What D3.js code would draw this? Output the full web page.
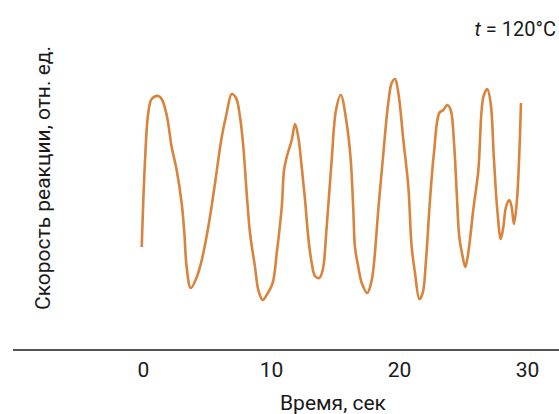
<!DOCTYPE html>
<html>
<head>
<meta charset="utf-8">
<script src="https://cdn.jsdelivr.net/npm/d3@7"></script>
<style>
  body { margin: 0; background: #fff; }
  text { font-family: Roboto, "Liberation Sans", sans-serif; fill: #1a1a1a; }
</style>
</head>
<body>
<div id="canvas"></div>
<script>
var W = 559, H = 414;

// time, sec
var times = [-0.1, 0.16, 0.41, 0.68, 1.2, 1.46, 1.85, 2.24, 2.63, 3.02, 3.23, 3.41, 3.73, 4.2, 4.59, 5.1, 5.63, 6.15, 6.54, 6.93,
  7.27, 7.58, 7.84, 8.1, 8.36, 8.75, 9.01, 9.35, 9.66, 10.13, 10.45, 10.84, 11.02, 11.23, 11.62, 11.88, 12.13, 12.4, 12.66, 12.91,
  13.18, 13.44, 13.77, 14.04, 14.35, 14.74, 15.08, 15.45, 15.91, 16.23, 16.43, 16.56, 16.82, 17.09, 17.52, 17.87, 18.07, 18.38, 18.73, 19.16,
  19.43, 19.69, 19.95, 20.34, 20.73, 20.99, 21.25, 21.59, 21.85, 22.11, 22.42, 22.73, 23.15, 23.46, 23.77, 24.04, 24.3, 24.51, 24.71, 24.98,
  25.18, 25.41, 25.8, 26.2, 26.59, 26.9, 27.16, 27.42, 27.68, 27.95, 28.15, 28.36, 28.62, 28.8, 28.98, 29.2, 29.38, 29.53];
// reaction rate, rel. units
var rates = [7.3, 16.0, 20.7, 22.1, 22.4, 22.1, 20.5, 17.3, 15.0, 11.7, 8.7, 5.3, 3.2, 4.3, 6.0, 9.3, 13.7, 18.3, 20.7, 22.6,
  22.2, 20.3, 17.3, 12.7, 8.7, 5.3, 3.0, 2.0, 2.5, 3.7, 6.7, 11.3, 15.0, 16.3, 18.0, 19.6, 18.3, 15.3, 12.0, 8.3,
  5.7, 4.4, 4.2, 5.0, 9.3, 16.0, 21.0, 22.5, 19.7, 16.0, 11.0, 7.3, 5.3, 3.7, 2.7, 4.0, 6.0, 11.0, 16.0, 21.7,
  23.7, 24.1, 22.7, 18.0, 13.3, 7.3, 4.7, 2.1, 2.7, 6.0, 12.0, 16.7, 20.7, 21.0, 21.5, 21.0, 17.7, 12.7, 8.3, 6.3,
  5.3, 6.7, 11.0, 15.0, 22.3, 23.1, 21.7, 16.0, 11.0, 8.1, 9.3, 11.3, 12.0, 11.3, 9.6, 11.7, 16.0, 21.7];
var xTicks = [0, 10, 20, 30];

var data = times.map(function(t, i) { return {t: t, v: rates[i]}; });

var svg = d3.select('#canvas').append('svg')
    .attr('width', W)
    .attr('height', H);

var x = d3.scaleLinear().domain([0, 30]).range([143, 527]);
var y = d3.scaleLinear().domain([0, 25]).range([320, 70]);

var line = d3.line()
    .x(function(d) { return x(d.t); })
    .y(function(d) { return y(d.v); })
    .curve(d3.curveCatmullRom.alpha(0.5));

svg.append('path')
    .datum(data)
    .attr('d', line)
    .style('fill', 'none')
    .style('stroke', '#d8843c')
    .style('stroke-width', '2.6px')
    .style('stroke-linejoin', 'round');

// x axis
var axisY = 350;
var xAxis = svg.append('g')
    .attr('transform', 'translate(0,' + axisY + ')')
    .call(d3.axisBottom(x).tickValues(xTicks).tickSize(0).tickPadding(12));
xAxis.select('.domain').remove();
xAxis.selectAll('text')
    .style('font-size', '21px')
    .style('font-family', 'Roboto, sans-serif')
    .attr('fill', '#1a1a1a');

svg.append('line')
    .attr('x1', 13).attr('x2', W)
    .attr('y1', axisY).attr('y2', axisY)
    .style('stroke', '#1a1a1a')
    .style('stroke-width', '1.3px');

svg.append('text')
    .attr('x', 333).attr('y', 410)
    .attr('text-anchor', 'middle')
    .style('font-size', '21px')
    .text('Время, сек');

svg.append('text')
    .attr('transform', 'translate(50,178) rotate(-90)')
    .attr('text-anchor', 'middle')
    .style('font-size', '21px')
    .text('Скорость реакции, отн. ед.');

var lab = svg.append('text')
    .attr('x', 556).attr('y', 36)
    .attr('text-anchor', 'end')
    .style('font-size', '20px');
lab.append('tspan').style('font-style', 'italic').text('t');
lab.append('tspan').text(' = 120°C');
</script>
</body>
</html>
